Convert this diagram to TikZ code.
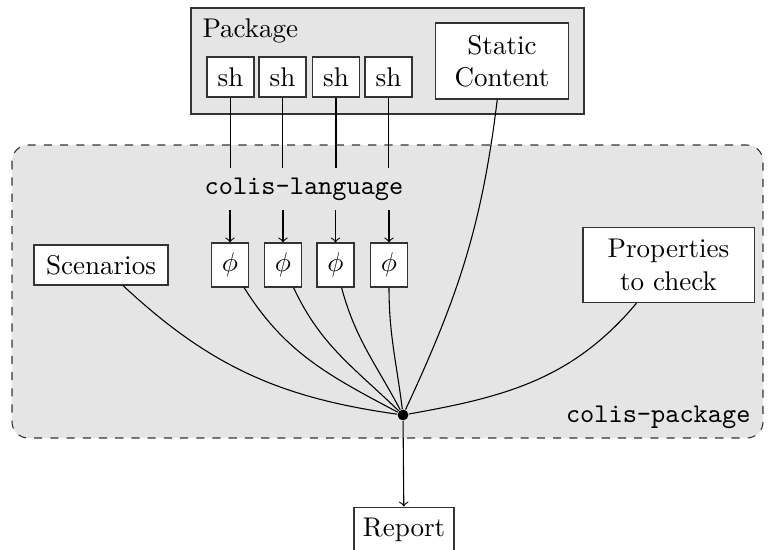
\documentclass[tikz,border=0pt]{standalone}
\tikzset{
  box/.style={draw=black!80, fill=white, inner sep=2pt},
  shbox/.style={box, minimum width=17.4pt, minimum height=14.8pt},
  phibox/.style={box, minimum width=13.7pt, minimum height=16.3pt},
  hubdot/.style={circle, fill=black, inner sep=0pt, minimum size=4pt},
  area/.style={fill=black!10, draw=black!80},
}
\begin{document}
\begin{tikzpicture}[x=0.37pt,y=-0.37pt,>=to]
\useasboundingbox (0,0) rectangle (769,549);
% the colis-package area
\draw[area, dashed, rounded corners=6pt] (12,145) rectangle (763,438);
\node[anchor=base east, font=\ttfamily] (cpkg) at (760,422) {colis-package};
% the package
\draw[area] (191,8) rectangle (584,114);
\node[anchor=base west, inner sep=0pt] (pkg) at (202,37) {Package};
\node[shbox] (sh1) at (230.5,77) {sh};
\node[shbox] (sh2) at (282.5,77) {sh};
\node[shbox] (sh3) at (336,77) {sh};
\node[shbox] (sh4) at (388.5,77) {sh};
\node[box, align=center, minimum width=49.2pt, minimum height=28.1pt] (static) at (502,61) {Static\\Content};
% interpretation
\node[anchor=base, font=\ttfamily] (lang) at (304,194) {colis-language};
\node[phibox] (phi1) at (230,265) {$\phi$};
\node[phibox] (phi2) at (283,265) {$\phi$};
\node[phibox] (phi3) at (335.5,265) {$\phi$};
\node[phibox] (phi4) at (389,265) {$\phi$};
\draw (sh1) -- (sh1 |- lang.north);
\draw (sh2) -- (sh2 |- lang.north);
\draw (sh3) -- (sh3 |- lang.north);
\draw (sh4) -- (sh4 |- lang.north);
\draw[->] (phi1 |- lang.south) -- (phi1);
\draw[->] (phi2 |- lang.south) -- (phi2);
\draw[->] (phi3 |- lang.south) -- (phi3);
\draw[->] (phi4 |- lang.south) -- (phi4);
\node[box, minimum width=49.6pt, minimum height=14.8pt] (scen) at (101,265) {Scenarios};
\node[box, align=center, minimum width=63.3pt, minimum height=27.8pt] (props) at (668.5,265) {Properties\\to check};
% everything meets in the hub
\node[hubdot] (hub) at (403,415) {};
\draw (scen) to[out=-43,in=172] (hub);
\draw (phi1) to[out=-58,in=152] (hub);
\draw (phi2) to[out=-65,in=136] (hub);
\draw (phi3) to[out=-75,in=118] (hub);
\draw (phi4) to[out=-90,in=97] (hub);
\draw (static) to[out=-97,in=65] (hub);
\draw (props) to[out=-130,in=10] (hub);
\node[box, minimum width=37pt, minimum height=17pt] (report) at (404,530) {Report};
\draw[->] (hub) -- (report);
\end{tikzpicture}
\end{document}
